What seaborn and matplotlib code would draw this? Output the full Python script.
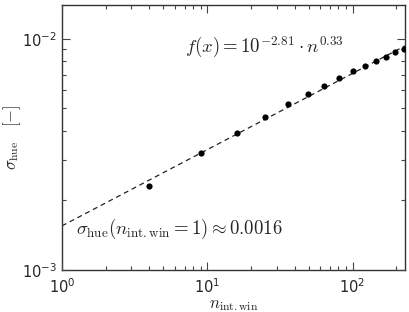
import numpy as np
import pandas as pd
import seaborn as sns
import matplotlib.pyplot as plt
from matplotlib.ticker import LogLocator

# data
n_win = [4, 9, 16, 25, 36, 49, 64, 81, 100, 121, 144, 169, 196, 225]
sigma_hue = [0.00230, 0.00320, 0.00393, 0.00458, 0.00520, 0.00574, 0.00626,
             0.00676, 0.00722, 0.00762, 0.00798, 0.00836, 0.00873, 0.00902]
fit_n = [1, 230]
fit_sigma = [0.00155, 0.00932]

df = pd.DataFrame({'n': n_win, 'sigma': sigma_hue})
fit_df = pd.DataFrame({'n': fit_n, 'sigma': fit_sigma})

sns.set_style('ticks', {'xtick.direction': 'in', 'ytick.direction': 'in'})
plt.rcParams['font.family'] = ['DejaVu Sans']
plt.rcParams['xtick.top'] = True
plt.rcParams['ytick.right'] = True

fig = plt.figure(figsize=(4.1, 3.12), dpi=100)
ax = fig.add_axes([0.151, 0.135, 0.837, 0.849])
ax.set_axisbelow(False)

sns.lineplot(data=fit_df, x='n', y='sigma', ax=ax, color='#222222', lw=0.9,
             linestyle=(0, (4, 3)))
sns.scatterplot(data=df, x='n', y='sigma', ax=ax, color='black', s=20,
                edgecolor='black', linewidth=0, zorder=3)

ax.set_xscale('log')
ax.set_yscale('log')
ax.set_xlim(1, 230)
ax.set_ylim(1e-3, 1.4e-2)
for axis in (ax.xaxis, ax.yaxis):
    axis.set_minor_locator(LogLocator(base=10, subs=np.arange(2, 10), numticks=20))

ax.tick_params(which='both', direction='in', top=True, right=True,
               labelsize=10.5, color='#444444')
ax.tick_params(which='major', length=6, width=0.8)
ax.tick_params(which='minor', length=3, width=0.8)
ax.tick_params(axis='x', pad=5)
for s in ax.spines.values():
    s.set_color('#333333')
    s.set_linewidth(1.0)

ax.set_xlabel(r'$n_{\rm int.win}$', fontsize=12, math_fontfamily='cm')
ax.set_ylabel(r'$\sigma_{\rm hue}\quad[-]$', fontsize=12, math_fontfamily='cm')
ax.xaxis.set_label_coords(0.5, -0.095)
ax.yaxis.set_label_coords(-0.112, 0.5)

ax.text(0.36, 0.84, r'$f(x) = 10^{-2.81}\cdot n^{0.33}$', transform=ax.transAxes,
        fontsize=13.5, math_fontfamily='cm', va='center')
ax.text(0.04, 0.155, r'$\sigma_{\rm hue}(n_{\rm int.win} = 1) \approx 0.0016$',
        transform=ax.transAxes, fontsize=13.5, math_fontfamily='cm', va='center')

plt.savefig('out.png', dpi=100)
